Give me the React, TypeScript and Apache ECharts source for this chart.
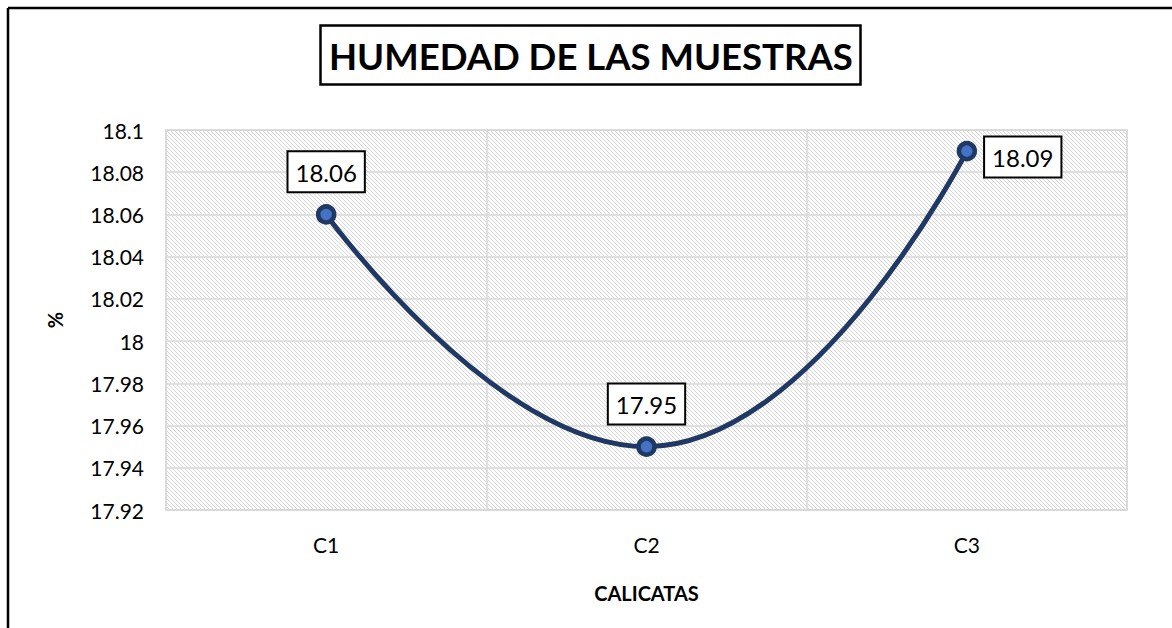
import React, { useEffect, useRef } from "react";
import * as echarts from "echarts";

const categories = ["C1", "C2", "C3"];
const humedad = [18.06, 17.95, 18.09];
const yMin = 17.92;
const yMax = 18.1;
const yStep = 0.02;

function makePattern(): string {
  const c = document.createElement("canvas");
  c.width = 8;
  c.height = 8;
  const ctx = c.getContext("2d")!;
  ctx.fillStyle = "#ffffff";
  ctx.fillRect(0, 0, 8, 8);
  ctx.fillStyle = "#d6d6d6";
  for (let y = 0; y < 8; y++) {
    for (let x = 0; x < 8; x++) {
      const d = (((x - y) % 4) + 4) % 4;
      if ((d === 0 || d === 1) && (x + y) % 2 === 0) ctx.fillRect(x, y, 1, 1);
    }
  }
  return c.toDataURL();
}

export default function App() {
  const ref = useRef<HTMLDivElement>(null);
  useEffect(() => {
    document.body.style.margin = "0";
    document.body.style.overflow = "hidden";
    const chart = echarts.init(ref.current!, undefined, { renderer: "svg" });
    const font = "Lato, 'Open Sans', sans-serif";
    const labelBase = {
      show: true,
      color: "#000",
      fontSize: 24,
      fontFamily: font,
      backgroundColor: "#fff",
      borderColor: "#000",
      borderWidth: 2,
      padding: [8, 7, 7, 7],
      formatter: (p: any) => p.value.toFixed(2),
    };
    chart.setOption({
      animation: false,
      backgroundColor: "#fff",
      title: {
        text: "HUMEDAD DE LAS MUESTRAS",
        left: 320,
        top: 25,
        padding: [12, 8, 11, 9],
        borderColor: "#000",
        borderWidth: 2.5,
        textStyle: { fontFamily: font, fontSize: 36.5, fontWeight: "bold", color: "#000" },
      },
      graphic: [
        { type: "line", shape: { x1: 8, y1: 8, x2: 1172, y2: 8 }, style: { stroke: "#000", lineWidth: 2.5 } },
        { type: "line", shape: { x1: 8, y1: 8, x2: 8, y2: 628 }, style: { stroke: "#000", lineWidth: 2.5 } },
      ],
      grid: {
        left: 166,
        right: 45,
        top: 130,
        bottom: 118,
        show: true,
        borderColor: "#d9d9d9",
        borderWidth: 1.5,
        backgroundColor: { image: makePattern(), repeat: "repeat" },
      },
      xAxis: {
        type: "category",
        data: categories,
        boundaryGap: true,
        name: "CALICATAS",
        nameLocation: "middle",
        nameGap: 73,
        nameTextStyle: { fontFamily: font, fontSize: 20, fontWeight: "bold", color: "#000" },
        axisLine: { show: true, lineStyle: { color: "#d9d9d9", width: 1.5 } },
        axisTick: { show: false },
        axisLabel: { fontFamily: font, fontSize: 21, color: "#000", margin: 24 },
        splitLine: { show: true, lineStyle: { color: "#d9d9d9", width: 1.5 } },
      },
      yAxis: {
        type: "value",
        min: yMin,
        max: yMax,
        interval: yStep,
        name: "%",
        nameLocation: "middle",
        nameGap: 101,
        nameTextStyle: { fontFamily: font, fontSize: 20, fontWeight: "bold", color: "#000" },
        axisLine: { show: false },
        axisTick: { show: false },
        axisLabel: {
          fontFamily: font,
          fontSize: 21,
          color: "#000",
          margin: 22,
          formatter: (v: number) => String(parseFloat(v.toFixed(2))),
        },
        splitLine: { show: true, lineStyle: { color: "#d9d9d9", width: 1.5 } },
      },
      series: [
        {
          type: "line",
          data: humedad.map((v, i) => ({
            value: v,
            label:
              i === 2
                ? { ...labelBase, position: "right", distance: 8, offset: [0, 6] }
                : { ...labelBase, position: "top", distance: 13 },
          })),
          smooth: 0.5,
          symbol: "circle",
          symbolSize: 16,
          lineStyle: { color: "#1f3864", width: 5 },
          itemStyle: { color: "#4472c4", borderColor: "#1f3864", borderWidth: 4.5 },
          z: 3,
        },
      ],
    });
    return () => chart.dispose();
  }, []);
  return <div ref={ref} style={{ width: 1172, height: 628 }} />;
}
